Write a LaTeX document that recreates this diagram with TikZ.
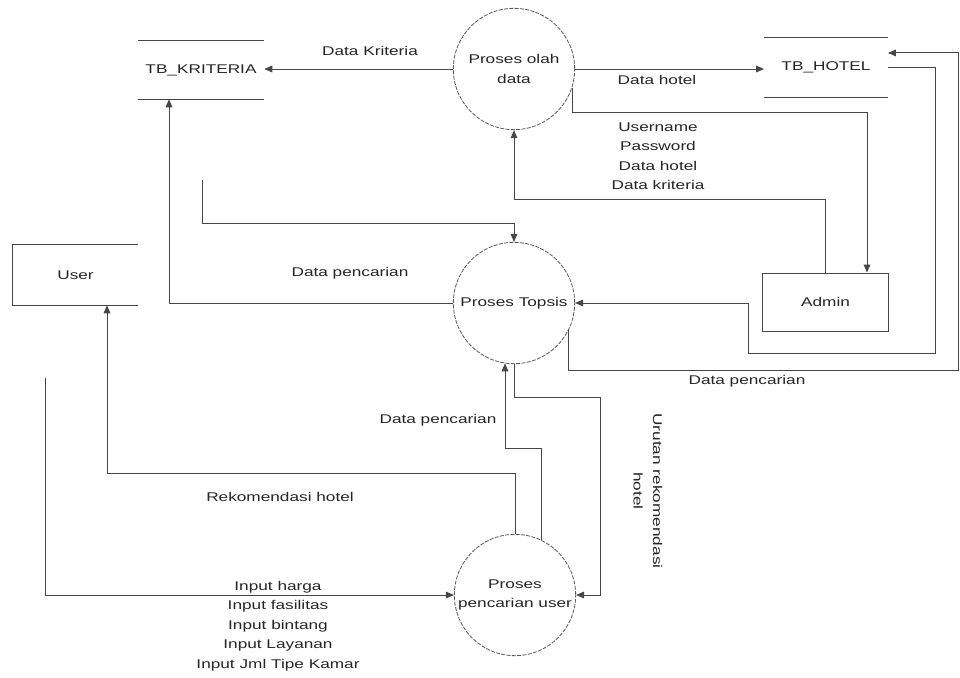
\documentclass[tikz,border=0pt]{standalone}
\usepackage{fontspec}
\setmainfont[FakeStretch=1.36]{Liberation Sans}
\usetikzlibrary{arrows.meta,calc}
\begin{document}
\begin{tikzpicture}[x=0.75pt,y=-0.75pt,
  every node/.style={font=\fontsize{9.5}{14.6}\selectfont, text=black!85},
  ln/.style={draw=black!72, line width=0.75pt},
  arr/.style={ln, -{Triangle[length=6pt,width=5pt]}},
  proc/.style={circle, draw=black!65, line width=0.6pt, dash pattern=on 3pt off 1pt, minimum size=91pt, inner sep=0pt, align=center},
  store/.style={minimum width=94.5pt, minimum height=43.5pt, inner sep=0pt},
  ext/.style={minimum width=94pt, minimum height=45pt, inner sep=0pt},
  lbl/.style={inner sep=1pt, align=center}]
\useasboundingbox[fill=white] (0,0) rectangle (960,678);

% processes
\node[proc] (olah) at (514,69) {Proses olah\\data};
\node[proc] (topsis) at (514,303) {Proses Topsis};
\node[proc] (cari) at (515,595) {Proses\\pencarian user};

% data stores
\node[store] (kri) at (201,70) {TB\_KRITERIA};
\draw[ln] (kri.north west) -- (kri.north east);
\draw[ln] (kri.south west) -- (kri.south east);
\node[store, minimum width=92.5pt, minimum height=44pt] (hotel) at (826,67.5) {TB\_HOTEL};
\draw[ln] (hotel.north west) -- (hotel.north east);
\draw[ln] (hotel.south west) -- (hotel.south east);

% external entities
\node[ext] (user) at (75.5,275) {User};
\draw[ln] (user.north east) -- (user.north west) -- (user.south west) -- (user.south east);
\node[ext, draw=black!72, line width=0.75pt, minimum width=94pt, minimum height=43.5pt] (admin) at (825.5,302) {Admin};

% helper coordinates
\coordinate (c2) at (867,112);
\coordinate (c3) at (0,199);
\coordinate (e1) at (935,353);
\coordinate (e2) at (748,353);
\coordinate (f0) at (202,180);
\coordinate (f1) at (202,223);
\coordinate (r1) at (958,370);
\coordinate (h1) at (505,448);
\coordinate (i1) at (600,397);
\coordinate (j1) at (107,473);
\coordinate (k0) at (45,378);

% connectors
\draw[arr] (olah.west) -- (olah.west -| kri.east);
\draw[arr] (olah.east) -- (olah.east -| hotel.west);
\draw[arr] (olah.-18) |- (c2) -- (c2 |- admin.north);
\draw[arr] (admin.north) |- (olah.south |- c3) -- (olah.south);
\draw[arr] (hotel.east) -| (e1) -- (e2) |- (topsis.east);
\draw[arr] (topsis.-26) |- (r1) |- ([yshift=10.9pt]hotel.east);
\draw[arr] (f0) -- (f1) -| (topsis.north);
\draw[arr] (topsis.west) -| ([xshift=-24pt]kri.south);
\draw[arr] (cari.64) |- (h1) -- (h1 |- topsis.261.5);
\draw[arr] (topsis.south) |- (i1) |- (cari.east);
\draw[arr] (cari.north) |- (j1) -- (j1 |- user.south);
\draw[arr] (k0) |- (cari.west);

% labels
\node[lbl] (l1) at (370,51) {Data Kriteria};
\node[lbl] (l2) at (657,80) {Data hotel};
\node[lbl] (l3) at (658,156) {Username\\Password\\Data hotel\\Data kriteria};
\node[lbl] (l4) at (350,273) {Data pencarian};
\node[lbl] (l5) at (747,381) {Data pencarian};
\node[lbl] (l6) at (438,420) {Data pencarian};
\node[lbl, rotate=-90] (l7) at (648,491) {Urutan rekomendasi\\hotel};
\node[lbl] (l8) at (280,497) {Rekomendasi hotel};
\node[lbl] (l9) at (278,626) {Input harga\\Input fasilitas\\Input bintang\\Input Layanan\\Input Jml Tipe Kamar};
\end{tikzpicture}
\end{document}
